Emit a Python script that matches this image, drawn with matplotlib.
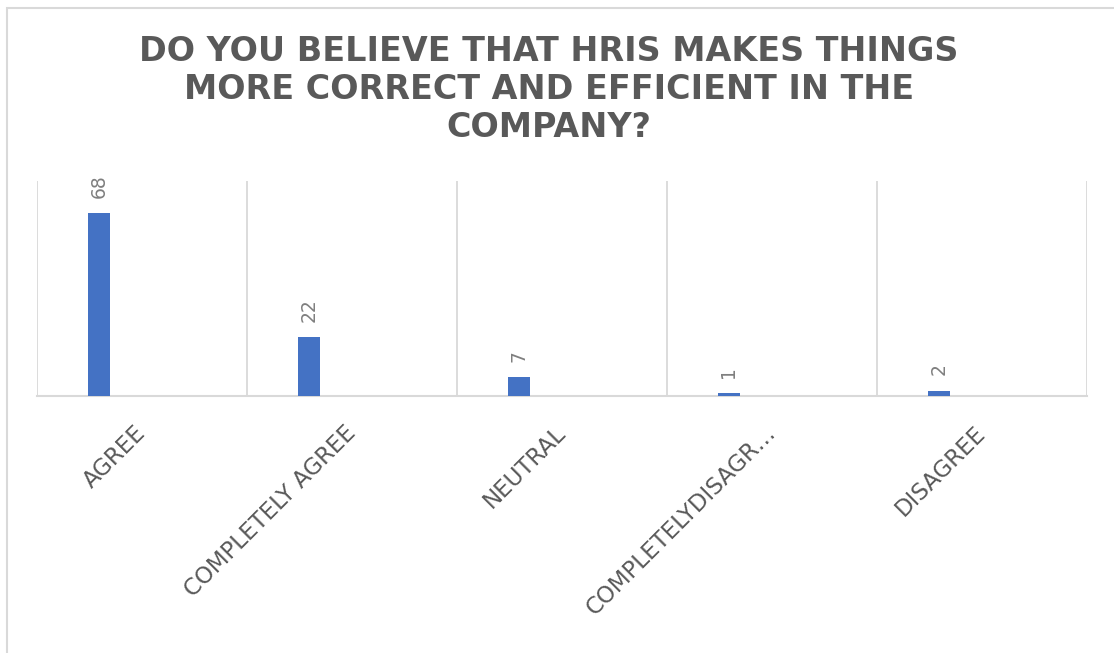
import matplotlib
matplotlib.use("Agg")
import matplotlib.pyplot as plt
import numpy as np
from matplotlib.patches import Rectangle

categories = ["AGREE", "COMPLETELY AGREE", "NEUTRAL", "COMPLETELYDISAGR…", "DISAGREE"]
values = [68, 22, 7, 1, 2]
title = "DO YOU BELIEVE THAT HRIS MAKES THINGS\nMORE CORRECT AND EFFICIENT IN THE\nCOMPANY?"

W, H = 1114, 653
fig = plt.figure(figsize=(W / 100, H / 100), dpi=100)
fig.patch.set_facecolor("white")

# outer chart-area border (light gray, top & left visible)
fig.patches.append(Rectangle((7 / W, -0.1), 1.2, 1 - 8 / H + 0.1, transform=fig.transFigure,
                             fill=False, edgecolor="#D9D9D9", linewidth=1.5, zorder=0))

ax = fig.add_axes([37 / W, 1 - 396 / H, (1087 - 37) / W, (396 - 181) / H])
x = np.arange(len(categories))
bar_offset = -0.205
bar_w = 0.105
bars = ax.bar(x + bar_offset, values, width=bar_w, color="#4472C4", zorder=3)

ax.set_xlim(-0.5, len(categories) - 0.5)
ax.set_ylim(0, 80)

for xi, v in zip(x, values):
    ax.annotate(str(v), (xi + bar_offset, v), xytext=(0, 11), textcoords="offset points",
                rotation=90, ha="center", va="bottom", fontsize=13.5, color="#7F7F7F",
                family="DejaVu Sans")

ax.set_xticks(np.arange(-0.5, len(categories), 1.0), minor=True)
ax.grid(which="minor", axis="x", color="#D9D9D9", linewidth=1.3, zorder=0)
ax.tick_params(axis="x", which="both", length=0)
ax.set_xticks(x)
ax.set_xticklabels(categories, rotation=45, ha="right", va="center", rotation_mode="anchor",
                   fontsize=16.5, color="#595959", family="DejaVu Sans")
ax.tick_params(axis="x", pad=24)
ax.set_yticks([])
for s in ["left", "right", "top"]:
    ax.spines[s].set_visible(False)
ax.spines["bottom"].set_color("#D9D9D9")
ax.spines["bottom"].set_linewidth(1.5)

fig.text(549 / W, 1 - 35 / H, title, ha="center", va="top", fontsize=24, fontweight="bold",
         color="#595959", family="DejaVu Sans", linespacing=1.2)

fig.savefig("out.png", dpi=100, facecolor="white")
